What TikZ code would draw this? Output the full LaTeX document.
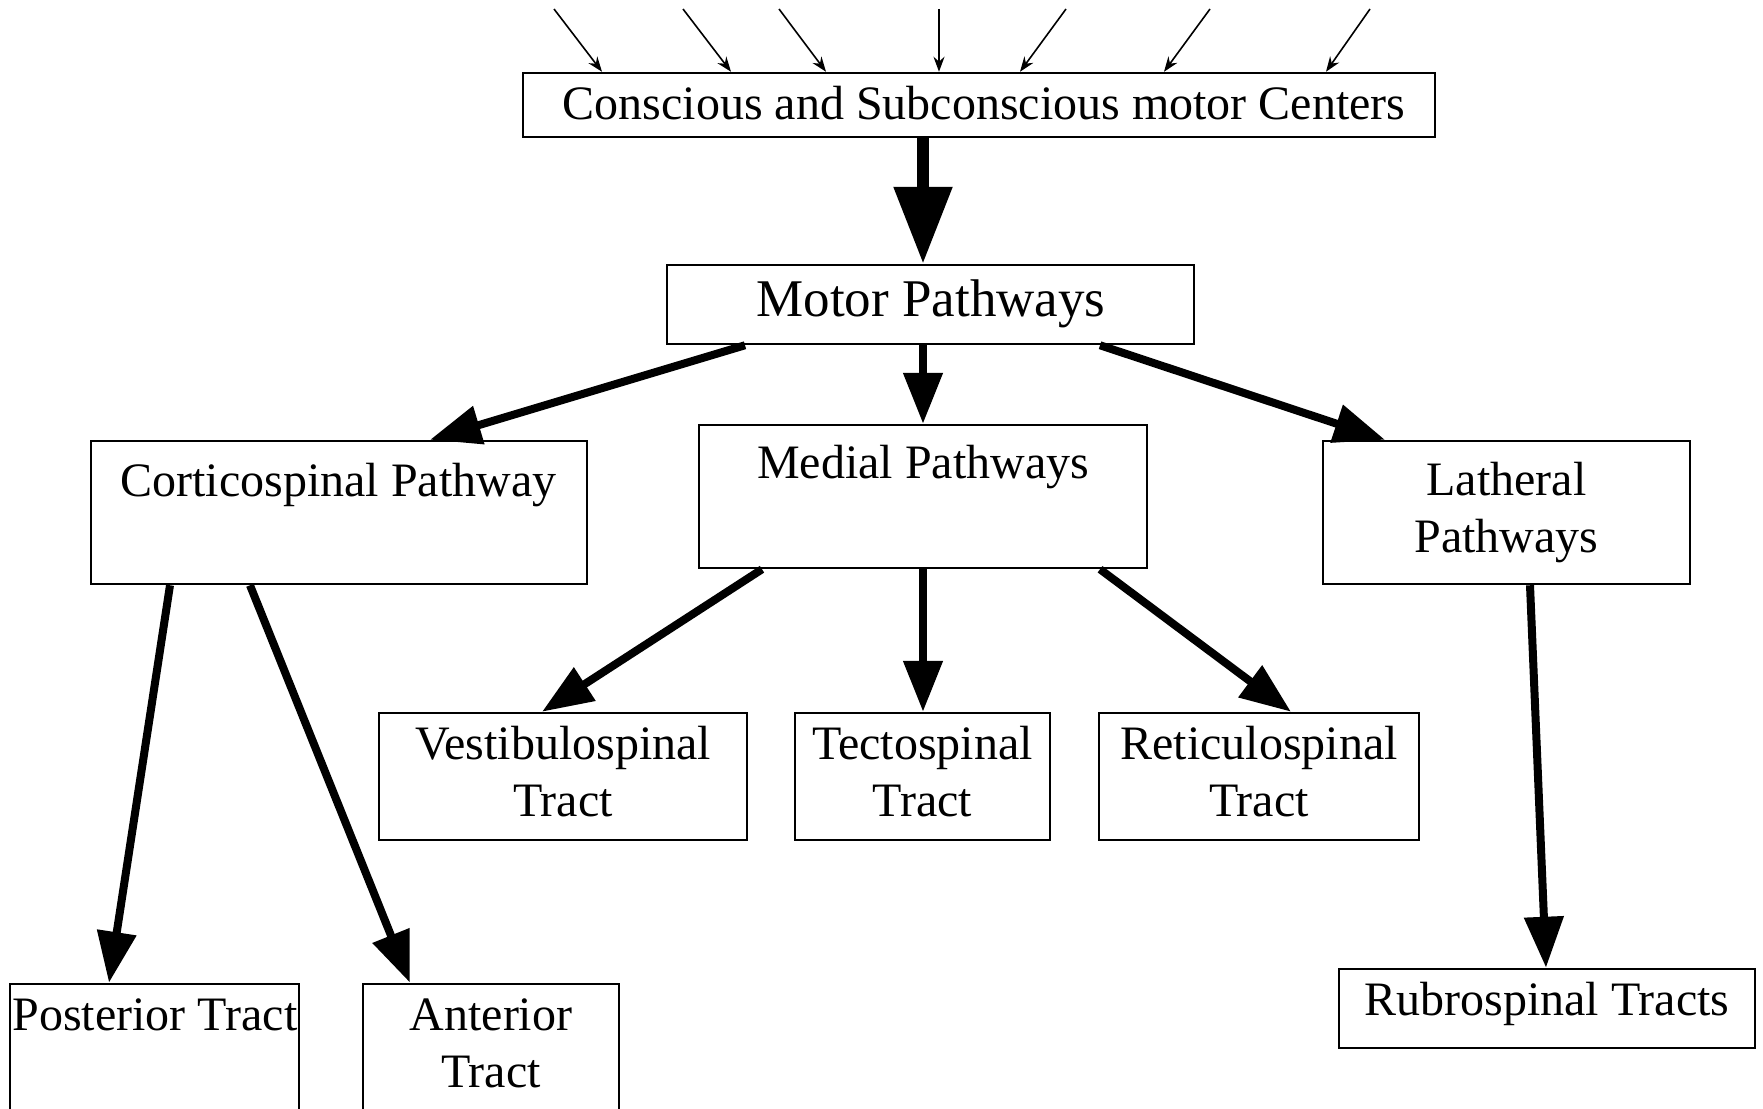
\documentclass[tikz,border=0pt]{standalone}
\usepackage{fontspec}
\setmainfont{Liberation Serif}
\usetikzlibrary{arrows.meta}

\tikzset{
  box/.style={draw, line width=2.5pt, inner sep=0pt},
  txt/.style={anchor=base, inner sep=0pt, align=center, font=\fontsize{48}{57}\selectfont},
  flow/.style={line width=8pt, -{Triangle[length=51pt,width=38pt]}},
  input/.style={line width=1.6pt, -{Stealth[length=15pt,width=11pt]}}
}

\begin{document}
\begin{tikzpicture}[x=1pt, y=-1pt]
        \useasboundingbox (0,0) rectangle (1763,1108);
        \clip (0,0) rectangle (1763,1108);
        \node[box, minimum width=912pt, minimum height=64pt] (centers) at (979,105) {};
        \node[box, minimum width=527pt, minimum height=79pt] (motor) at (930.5,304.5) {};
        \node[box, minimum width=496pt, minimum height=143pt] (cortico) at (339,512.5) {};
        \node[box, minimum width=448pt, minimum height=143pt] (medial) at (923,496.5) {};
        \node[box, minimum width=367pt, minimum height=143pt] (lateral) at (1506.5,512.5) {};
        \node[box, minimum width=368pt, minimum height=127pt] (vestibulo) at (563,776.5) {};
        \node[box, minimum width=255pt, minimum height=127pt] (tecto) at (922.5,776.5) {};
        \node[box, minimum width=320pt, minimum height=127pt] (reticulo) at (1259,776.5) {};
        \node[box, minimum width=289pt, minimum height=176pt] (posterior) at (154.5,1072) {};
        \node[box, minimum width=256pt, minimum height=176pt] (anterior) at (491,1072) {};
        \node[box, minimum width=416pt, minimum height=79pt] (rubro) at (1547,1008.5) {};

        \node[txt] (centers-t) at (984,119) {Conscious and Subconscious motor Centers};
        \node[txt, font=\fontsize{53}{57}\selectfont] (motor-t) at (931,316) {Motor Pathways};
        \node[txt] (cortico-t) at (338.5,496) {Corticospinal Pathway};
        \node[txt] (medial-t) at (923,478) {Medial Pathways};
        \node[txt, text width=360pt] (lateral-t) at (1506.5,495) {Latheral\\Pathways};
        \node[txt, text width=360pt] (vestibulo-t) at (563,759) {Vestibulospinal\\Tract};
        \node[txt, text width=250pt] (tecto-t) at (922.5,759) {Tectospinal\\Tract};
        \node[txt, text width=320pt] (reticulo-t) at (1259,759) {Reticulospinal\\Tract};
        \node[txt] (posterior-t) at (155,1030) {Posterior Tract};
        \node[txt, text width=250pt] (anterior-t) at (491,1030) {Anterior\\Tract};
        \node[txt] (rubro-t) at (1547,1015) {Rubrospinal Tracts};

        \foreach \a/\b [count=\i] in {554/602, 683/731, 779/826, 939/939, 1066/1020, 1210/1164, 1370/1326} {
            \coordinate (in\i) at (\a,9);
            \draw[input] (in\i) -- (\b,0 |- centers.north);
        }

        \draw[flow, line width=12pt, -{Triangle[length=77pt,width=56pt]}] (923,0 |- centers.south) -- (923,0 |- motor.north);
        \draw[flow] (745,0 |- motor.south) -- (430,0 |- cortico.north);
        \draw[flow] (923,0 |- motor.south) -- (923,0 |- medial.north);
        \draw[flow] (1100,0 |- motor.south) -- (1385,0 |- lateral.north);
        \draw[flow] (170,0 |- cortico.south) -- (109,0 |- posterior.north);
        \draw[flow] (250,0 |- cortico.south) -- (410,0 |- anterior.north);
        \draw[flow] (762,0 |- medial.south) -- (542,0 |- vestibulo.north);
        \draw[flow] (923,0 |- medial.south) -- (923,0 |- tecto.north);
        \draw[flow] (1100,0 |- medial.south) -- (1291,0 |- reticulo.north);
        \draw[flow] (1530,0 |- lateral.south) -- (1546,0 |- rubro.north);
    \end{tikzpicture}
\end{document}
